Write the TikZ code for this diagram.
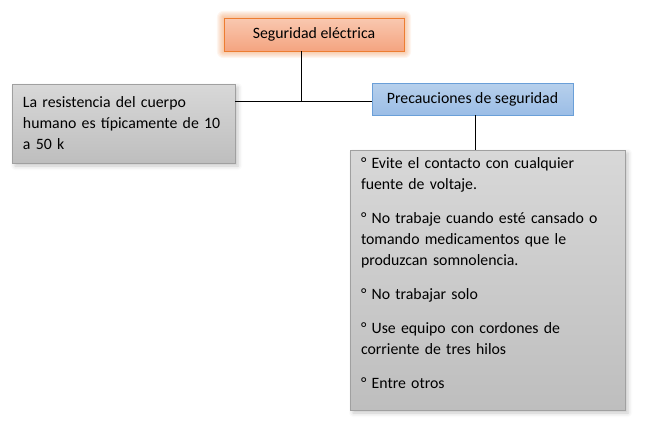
\documentclass[tikz,border=0pt]{standalone}
\usepackage{fontspec}
\setmainfont{Carlito}
\usetikzlibrary{shadows.blur,backgrounds}
\definecolor{orangeline}{RGB}{237,125,49}
\definecolor{orangetop}{RGB}{249,200,176}
\definecolor{orangebot}{RGB}{244,164,128}
\definecolor{blueline}{RGB}{106,159,216}
\definecolor{bluetop}{RGB}{183,208,236}
\definecolor{bluebot}{RGB}{155,189,230}
\definecolor{grayline}{RGB}{160,160,160}
\definecolor{graytop}{RGB}{216,216,216}
\definecolor{graybot}{RGB}{190,190,190}
\begin{document}
\begin{tikzpicture}[x=1pt, y=-1pt, font=\fontsize{15.8}{21}\selectfont, thin,
    title/.style = {draw=orangeline, top color=orangetop, bottom color=orangebot, minimum width=180pt, minimum height=33pt, inner sep=0pt},
    topic/.style = {draw=blueline, top color=bluetop, bottom color=bluebot, minimum width=201pt, minimum height=32pt, inner sep=0pt},
    note/.style = {draw=grayline, top color=graytop, bottom color=graybot, inner xsep=11pt, inner ysep=0pt, align=left, blur shadow={shadow xshift=3pt, shadow yshift=-3pt, shadow blur radius=4pt, shadow opacity=22}}]
    \useasboundingbox (0,0) rectangle (648,434);
    \node[title] (seg) at (314,34.5) {Seguridad eléctrica};
    \node[note, text width=201pt, minimum height=79pt] (resist) at (123.5,123.5) {La resistencia del cuerpo\\humano es típicamente de 10\\a 50 k};
    \node[topic] (prec) at (472.5,99) {Precauciones de seguridad};
    \node[note, text width=253pt, minimum height=260pt] (lista) at (487.5,280) {° Evite el contacto con cualquier\\fuente de voltaje.\\[13pt]° No trabaje cuando esté cansado o\\tomando medicamentos que le\\produzcan somnolencia.\\[13pt]° No trabajar solo\\[13pt]° Use equipo con cordones de\\corriente de tres hilos\\[13pt]° Entre otros\rule[-13pt]{0pt}{13pt}};
    \begin{scope}[on background layer]
        \foreach \g in {1,...,7}
            \fill[orangeline, opacity=0.07, rounded corners=\g pt] ([shift={(-\g,\g)}]seg.south west) rectangle ([shift={(\g,-\g)}]seg.north east);
    \end{scope}
    \coordinate (j) at (301,101);
    \coordinate (k) at (475,0);
    \draw (j |- seg.south) -- (j);
    \draw (j -| resist.east) -- (j -| prec.west);
    \draw (k |- prec.south) -- (k |- lista.north);
\end{tikzpicture}
\end{document}
